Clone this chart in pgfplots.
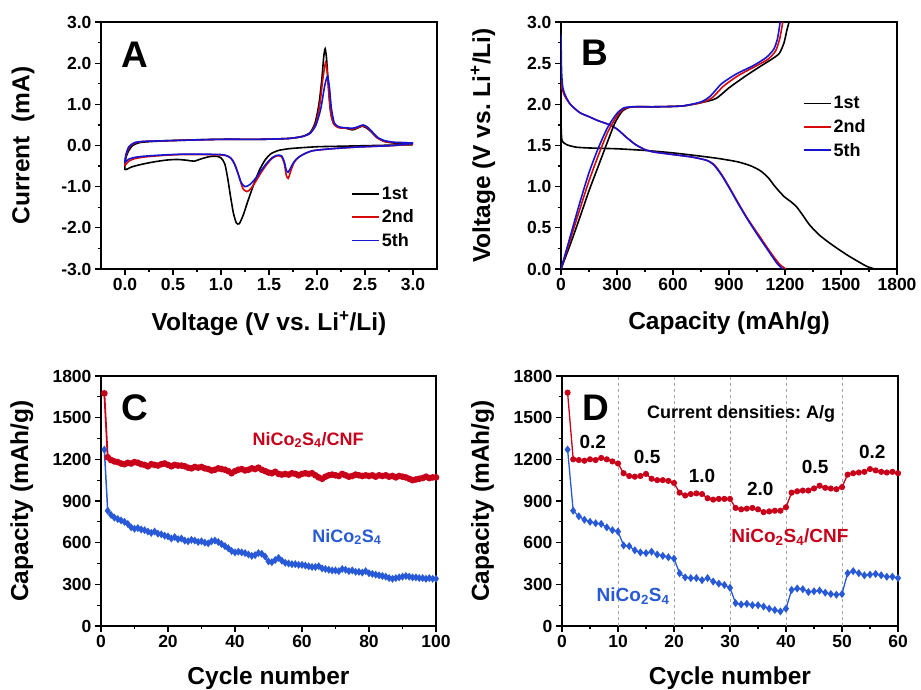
\documentclass[border=0pt]{standalone}
\usepackage{fontspec}
\setmainfont{Liberation Sans}
\usepackage{pgfplots}
\pgfplotsset{compat=1.18}
\frenchspacing
\definecolor{cvred}{RGB}{215,10,10}
\definecolor{cvblue}{RGB}{20,20,210}
\definecolor{cred}{RGB}{200,0,26}
\definecolor{cblue}{RGB}{40,90,215}
\pgfplotsset{
  panel/.style={
    scale only axis, anchor=south west,
    axis line style={line width=1.6pt},
    tick align=outside, tick pos=left,
    major tick length=6pt, minor tick length=3.5pt,
    every tick/.style={line width=1.2pt, black},
    minor tick num=1,
    tick label style={font=\fontsize{17.5}{20}\selectfont\bfseries},
    label style={font=\fontsize{24.5}{28}\selectfont\bfseries},
    /pgf/number format/assume math mode=true,
    /pgf/number format/1000 sep={},
  },
  cvleg/.style={legend style={draw=none, fill=none, anchor=north west,
      font=\fontsize{18}{20}\selectfont\bfseries, row sep=5pt},
    legend cell align=left,
    legend image code/.code={\draw[##1, line width=1.8pt] (0pt,0pt) -- (27pt,0pt);}},
}
\newcommand{\letterfont}{\fontsize{37}{40}\selectfont\bfseries}
\newcommand{\annfont}{\fontsize{18}{20}\selectfont\bfseries}
\newcommand{\numfont}{\fontsize{19}{21}\selectfont\bfseries}
\begin{document}
\begin{tikzpicture}
\path[use as bounding box] (0,0) rectangle (921pt,690pt);
% ---------------- A ----------------
\begin{axis}[panel, at={(101pt,421pt)}, width=336pt, height=247pt,
  xmin=-0.25, xmax=3.25, ymin=-3, ymax=3,
  xtick={0,0.5,...,3.0}, ytick={-3,-2,...,3},
  xticklabel style={/pgf/number format/.cd, fixed, fixed zerofill, precision=1},
  yticklabel style={/pgf/number format/.cd, fixed, fixed zerofill, precision=1},
  xlabel={Voltage (V vs. Li\textsuperscript{+}/Li)},
  ylabel={Current\ \ (mA)},
  xlabel style={at={(axis description cs:0.5,-0.219)}, anchor=center},
  ylabel style={at={(axis description cs:-0.232,0.5)}, anchor=center},
  cvleg, legend style={at={(rel axis cs:0.735,0.35)}},
]
\addplot[black, line width=1.6pt, smooth, tension=0.4] coordinates {
(3.0,0.02) (2.8,0.01) (2.6,0.0) (2.4,-0.01) (2.2,-0.02) (2.0,-0.03) (1.8,-0.06) (1.7,-0.08) (1.6,-0.12) (1.52,-0.2) (1.46,-0.35) (1.40,-0.6) (1.34,-0.95) (1.28,-1.35) (1.23,-1.7) (1.19,-1.9) (1.16,-1.88) (1.13,-1.65) (1.10,-1.25) (1.07,-0.8) (1.04,-0.45) (1.0,-0.3) (0.95,-0.26) (0.88,-0.27) (0.8,-0.32) (0.72,-0.38) (0.65,-0.36) (0.55,-0.34) (0.45,-0.35) (0.35,-0.38) (0.25,-0.42) (0.15,-0.47) (0.07,-0.52) (0.0,-0.58)
(0.01,-0.3) (0.04,-0.12) (0.08,0.0) (0.15,0.07) (0.3,0.1) (0.6,0.13) (1.0,0.15) (1.4,0.15) (1.7,0.17) (1.85,0.22) (1.93,0.32) (1.98,0.55) (2.02,1.0) (2.05,1.6) (2.07,2.15) (2.085,2.35) (2.10,2.1) (2.12,1.4) (2.14,0.85) (2.17,0.55) (2.22,0.45) (2.3,0.42) (2.37,0.38) (2.42,0.42) (2.47,0.47) (2.52,0.42) (2.57,0.32) (2.62,0.2) (2.7,0.1) (2.8,0.06) (2.9,0.05) (3.0,0.04)};
\addlegendentry{1st}
\addplot[cvred, line width=1.6pt, smooth, tension=0.4] coordinates {
(3.0,0.03) (2.8,0.0) (2.6,-0.02) (2.4,-0.04) (2.2,-0.07) (2.05,-0.1) (1.95,-0.13) (1.87,-0.2) (1.8,-0.3) (1.76,-0.42) (1.73,-0.6) (1.70,-0.8) (1.68,-0.72) (1.66,-0.45) (1.63,-0.27) (1.58,-0.25) (1.53,-0.32) (1.48,-0.45) (1.42,-0.65) (1.36,-0.88) (1.31,-1.05) (1.27,-1.12) (1.23,-1.05) (1.20,-0.85) (1.16,-0.55) (1.12,-0.35) (1.07,-0.26) (1.0,-0.23) (0.8,-0.22) (0.6,-0.22) (0.4,-0.24) (0.2,-0.28) (0.1,-0.32) (0.04,-0.38) (0.0,-0.47)
(0.01,-0.25) (0.04,-0.05) (0.1,0.06) (0.2,0.1) (0.5,0.12) (1.0,0.15) (1.4,0.15) (1.7,0.17) (1.85,0.22) (1.93,0.3) (1.99,0.55) (2.03,1.0) (2.06,1.6) (2.09,2.02) (2.11,1.7) (2.13,1.1) (2.15,0.7) (2.18,0.5) (2.23,0.43) (2.3,0.42) (2.37,0.4) (2.42,0.43) (2.47,0.48) (2.52,0.44) (2.57,0.33) (2.62,0.2) (2.7,0.1) (2.8,0.07) (2.9,0.07) (3.0,0.05)};
\addlegendentry{2nd}
\addplot[cvblue, line width=1.6pt, smooth, tension=0.4] coordinates {
(3.0,0.05) (2.8,0.0) (2.6,-0.02) (2.4,-0.04) (2.2,-0.07) (2.05,-0.1) (1.95,-0.13) (1.87,-0.2) (1.8,-0.3) (1.76,-0.4) (1.73,-0.52) (1.70,-0.65) (1.68,-0.6) (1.66,-0.4) (1.63,-0.25) (1.58,-0.24) (1.53,-0.3) (1.48,-0.42) (1.42,-0.6) (1.36,-0.8) (1.30,-0.95) (1.25,-1.0) (1.21,-0.9) (1.18,-0.7) (1.14,-0.45) (1.10,-0.3) (1.05,-0.24) (1.0,-0.22) (0.8,-0.21) (0.6,-0.21) (0.4,-0.23) (0.2,-0.26) (0.1,-0.29) (0.04,-0.33) (0.0,-0.4)
(0.01,-0.22) (0.04,-0.03) (0.1,0.07) (0.2,0.1) (0.5,0.12) (1.0,0.15) (1.4,0.15) (1.7,0.17) (1.85,0.22) (1.93,0.3) (1.99,0.5) (2.04,0.9) (2.08,1.45) (2.11,1.68) (2.13,1.4) (2.15,0.9) (2.18,0.55) (2.23,0.45) (2.3,0.43) (2.37,0.42) (2.42,0.45) (2.48,0.5) (2.53,0.44) (2.58,0.32) (2.63,0.2) (2.7,0.12) (2.8,0.08) (2.9,0.07) (3.0,0.06)};
\addlegendentry{5th}
\node[font=\letterfont] at (rel axis cs:0.10,0.866) {A};
\end{axis}
% ---------------- B ----------------
\begin{axis}[panel, at={(561pt,421pt)}, width=336pt, height=247pt,
  xmin=0, xmax=1800, ymin=0, ymax=3,
  xtick={0,300,...,1800}, ytick={0,0.5,...,3.0},
  yticklabel style={/pgf/number format/.cd, fixed, fixed zerofill, precision=1},
  xlabel={Capacity (mAh/g)},
  ylabel={Voltage (V vs. Li\textsuperscript{+}/Li)},
  xlabel style={at={(axis description cs:0.5,-0.219)}, anchor=center},
  ylabel style={at={(axis description cs:-0.232,0.5)}, anchor=center},
  cvleg, legend style={at={(rel axis cs:0.71,0.715)}},
]
\addplot[black, line width=1.6pt, smooth, tension=0.4] coordinates {
(0,1.78) (3,1.6) (8,1.55) (30,1.51) (80,1.48) (150,1.47) (300,1.46) (450,1.44) (600,1.41) (750,1.37) (850,1.34) (950,1.3) (1020,1.25) (1070,1.19) (1110,1.11) (1140,1.02) (1170,0.94) (1200,0.87) (1230,0.82) (1260,0.76) (1290,0.67) (1330,0.54) (1380,0.42) (1430,0.33) (1480,0.25) (1540,0.16) (1600,0.08) (1640,0.03) (1680,0.0)};
\addlegendentry{1st}
\addplot[cvred, line width=1.6pt, smooth, tension=0.4] coordinates {
(0,2.35) (5,2.2) (20,2.1) (50,2.0) (100,1.9) (150,1.85) (200,1.8) (250,1.76) (300,1.7) (350,1.6) (400,1.51) (450,1.45) (500,1.42) (600,1.39) (700,1.36) (780,1.32) (820,1.27) (860,1.15) (900,1.0) (950,0.8) (1000,0.61) (1060,0.41) (1120,0.21) (1170,0.06) (1205,0.0)};
\addlegendentry{2nd}
\addplot[cvblue, line width=1.6pt, smooth, tension=0.4] coordinates {
(0,2.85) (3,2.4) (10,2.2) (25,2.1) (50,2.0) (100,1.9) (150,1.85) (200,1.8) (250,1.76) (300,1.7) (350,1.6) (400,1.51) (450,1.45) (500,1.42) (600,1.39) (700,1.36) (780,1.32) (820,1.26) (860,1.14) (900,0.99) (950,0.79) (1000,0.6) (1060,0.39) (1120,0.19) (1160,0.06) (1188,0.0)};
\addlegendentry{5th}
\addplot[black, line width=1.6pt, smooth, tension=0.4] coordinates {
(0,0.0) (50,0.3) (100,0.62) (150,0.95) (200,1.25) (250,1.55) (290,1.78) (330,1.92) (380,1.97) (500,1.97) (650,1.98) (750,2.02) (830,2.07) (900,2.2) (980,2.33) (1060,2.45) (1130,2.55) (1170,2.62) (1195,2.75) (1210,2.9) (1222,3.0)};
\addplot[cvred, line width=1.6pt, smooth, tension=0.4] coordinates {
(0,0) (50,0.36) (100,0.72) (150,1.07) (200,1.38) (250,1.66) (300,1.86) (340,1.95) (400,1.97) (500,1.97) (650,1.98) (750,2.02) (810,2.08) (870,2.22) (950,2.35) (1040,2.46) (1110,2.55) (1150,2.65) (1172,2.8) (1188,3.0)};
\addplot[cvblue, line width=1.6pt, smooth, tension=0.4] coordinates {
(0,0) (50,0.4) (100,0.8) (150,1.17) (200,1.47) (250,1.72) (300,1.89) (340,1.96) (400,1.97) (500,1.97) (650,1.98) (750,2.03) (800,2.1) (860,2.25) (940,2.37) (1030,2.47) (1100,2.57) (1140,2.67) (1160,2.8) (1174,3.0)};
\node[font=\letterfont] at (rel axis cs:0.10,0.874) {B};
\end{axis}
% ---------------- C ----------------
\begin{axis}[panel, at={(101pt,64pt)}, width=335pt, height=250pt,
  xmin=0, xmax=100, ymin=0, ymax=1800,
  xtick={0,20,...,100}, ytick={0,300,...,1800},
  xlabel={Cycle number}, ylabel={Capacity (mAh/g)},
  xlabel style={at={(axis description cs:0.5,-0.21)}, anchor=center},
  ylabel style={at={(axis description cs:-0.236,0.5)}, anchor=center},
]
\addplot[cred, line width=1.8pt, mark=*, mark size=2.4pt] coordinates {
(1,1675) (2,1215) (3,1195) (4,1185) (5,1180) (6,1170) (7,1165) (8,1175) (9,1170) (10,1180) (11,1175) (12,1165) (13,1160) (14,1150) (15,1165) (16,1160) (17,1155) (18,1165) (19,1170) (20,1160) (21,1150) (22,1160) (23,1155) (24,1155) (25,1150) (26,1140) (27,1135) (28,1145) (29,1140) (30,1145) (31,1135) (32,1130) (33,1120) (34,1125) (35,1135) (36,1130) (37,1125) (38,1115) (39,1100) (40,1115) (41,1125) (42,1130) (43,1120) (44,1125) (45,1135) (46,1130) (47,1140) (48,1125) (49,1115) (50,1105) (51,1100) (52,1110) (53,1095) (54,1090) (55,1095) (56,1090) (57,1100) (58,1095) (59,1085) (60,1095) (61,1100) (62,1095) (63,1100) (64,1085) (65,1070) (66,1060) (67,1075) (68,1085) (69,1090) (70,1085) (71,1080) (72,1095) (73,1085) (74,1075) (75,1080) (76,1090) (77,1085) (78,1080) (79,1085) (80,1080) (81,1085) (82,1075) (83,1085) (84,1080) (85,1085) (86,1075) (87,1080) (88,1070) (89,1080) (90,1075) (91,1070) (92,1060) (93,1050) (94,1055) (95,1060) (96,1065) (97,1075) (98,1065) (99,1070) (100,1070)};
\addplot[cblue, line width=1.5pt, mark=diamond*, mark size=2.8pt] coordinates {
(1,1270) (2,830) (3,800) (4,780) (5,770) (6,760) (7,750) (8,735) (9,710) (10,700) (11,705) (12,695) (13,690) (14,680) (15,670) (16,680) (17,665) (18,660) (19,650) (20,645) (21,630) (22,640) (23,625) (24,630) (25,615) (26,610) (27,620) (28,615) (29,605) (30,610) (31,600) (32,595) (33,610) (34,615) (35,605) (36,590) (37,575) (38,560) (39,540) (40,530) (41,535) (42,530) (43,525) (44,515) (45,505) (46,510) (47,525) (48,520) (49,500) (50,465) (51,460) (52,475) (53,490) (54,470) (55,455) (56,450) (57,445) (58,445) (59,440) (60,440) (61,435) (62,430) (63,425) (64,425) (65,430) (66,415) (67,410) (68,405) (69,400) (70,400) (71,395) (72,410) (73,405) (74,395) (75,400) (76,390) (77,390) (78,385) (79,395) (80,380) (81,375) (82,370) (83,365) (84,360) (85,355) (86,345) (87,340) (88,345) (89,350) (90,355) (91,360) (92,355) (93,350) (94,350) (95,345) (96,345) (97,340) (98,345) (99,340) (100,340)};
\node[font=\letterfont] at (rel axis cs:0.10,0.872) {C};
\node[font=\annfont, text=cred] at (axis cs:61.8,1339) {NiCo\textsubscript{2}S\textsubscript{4}/CNF};
\node[font=\annfont, text=cblue] at (axis cs:73.4,641) {NiCo\textsubscript{2}S\textsubscript{4}};
\end{axis}
% ---------------- D ----------------
\begin{axis}[panel, at={(562pt,64pt)}, width=336pt, height=250pt,
  xmin=0, xmax=60, ymin=0, ymax=1800,
  xtick={0,10,...,60}, ytick={0,300,...,1800},
  extra x ticks={10,20,30,40,50}, extra x tick labels={},
  extra x tick style={grid=major, major grid style={dashed, gray!70, line width=0.6pt}},
  xlabel={Cycle number}, ylabel={Capacity (mAh/g)},
  xlabel style={at={(axis description cs:0.5,-0.21)}, anchor=center},
  ylabel style={at={(axis description cs:-0.236,0.5)}, anchor=center},
]
\addplot[cred, line width=1.3pt, mark=*, mark size=2.4pt] coordinates {
(1,1680) (2,1200) (3,1195) (4,1190) (5,1200) (6,1195) (7,1210) (8,1200) (9,1185) (10,1170) (11,1100) (12,1080) (13,1075) (14,1080) (15,1095) (16,1060) (17,1050) (18,1050) (19,1045) (20,1030) (21,960) (22,940) (23,950) (24,955) (25,950) (26,920) (27,910) (28,915) (29,915) (30,915) (31,850) (32,840) (33,845) (34,850) (35,840) (36,820) (37,825) (38,830) (39,830) (40,855) (41,960) (42,970) (43,975) (44,975) (45,990) (46,1010) (47,995) (48,990) (49,985) (50,1000) (51,1090) (52,1100) (53,1105) (54,1110) (55,1130) (56,1120) (57,1110) (58,1105) (59,1110) (60,1100)};
\addplot[cblue, line width=1.3pt, mark=diamond*, mark size=3pt] coordinates {
(1,1270) (2,830) (3,790) (4,765) (5,750) (6,740) (7,735) (8,710) (9,690) (10,680) (11,580) (12,575) (13,545) (14,530) (15,525) (16,535) (17,515) (18,505) (19,495) (20,485) (21,380) (22,350) (23,345) (24,345) (25,330) (26,345) (27,320) (28,305) (29,295) (30,275) (31,165) (32,155) (33,160) (34,150) (35,150) (36,140) (37,125) (38,115) (39,105) (40,125) (41,260) (42,270) (43,265) (44,245) (45,250) (46,255) (47,240) (48,230) (49,225) (50,230) (51,380) (52,395) (53,380) (54,365) (55,370) (56,375) (57,365) (58,355) (59,355) (60,345)};
\node[font=\letterfont] at (rel axis cs:0.10,0.872) {D};
\node[font=\annfont] at (axis cs:32,1526) {Current densities: A/g};
\node[font=\numfont] at (axis cs:5.5,1325) {0.2};
\node[font=\numfont] at (axis cs:15.2,1217) {0.5};
\node[font=\numfont] at (axis cs:25,1080) {1.0};
\node[font=\numfont] at (axis cs:35.4,986) {2.0};
\node[font=\numfont] at (axis cs:45.2,1145) {0.5};
\node[font=\numfont] at (axis cs:55.4,1253) {0.2};
\node[font=\fontsize{19}{21}\selectfont\bfseries, text=cred] at (axis cs:40.7,641) {NiCo\textsubscript{2}S\textsubscript{4}/CNF};
\node[font=\fontsize{19}{21}\selectfont\bfseries, text=cblue] at (axis cs:12.7,216) {NiCo\textsubscript{2}S\textsubscript{4}};
\end{axis}
\end{tikzpicture}
\end{document}
